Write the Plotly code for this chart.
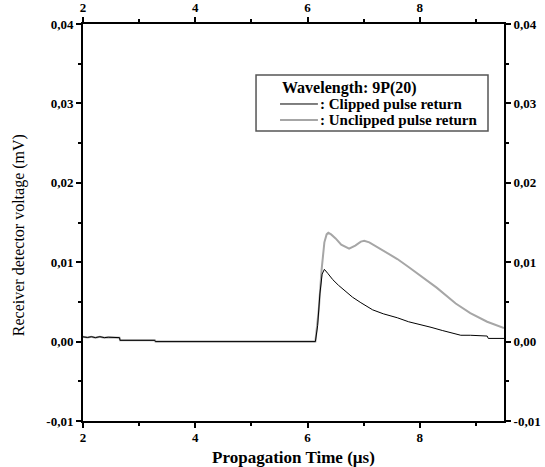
import plotly.graph_objects as go

# Clipped pulse return (black)
clip_x = [2.0, 2.08, 2.15, 2.22, 2.3, 2.38, 2.45, 2.55, 2.65, 2.66, 3.28, 3.29,
          6.14, 6.18, 6.22, 6.26, 6.30, 6.36, 6.45, 6.55, 6.68, 6.8, 6.95, 7.16,
          7.35, 7.6, 7.8, 8.04, 8.2, 8.4, 8.55, 8.73, 8.9, 9.1, 9.2, 9.22, 9.5]
clip_y = [0.0006, 0.00052, 0.00062, 0.0005, 0.00062, 0.0005, 0.00055, 0.0005, 0.0005, 0.00016, 0.00016, 0.0,
          0.0, 0.002, 0.006, 0.0085, 0.0091, 0.0086, 0.0078, 0.0071, 0.0063, 0.0056, 0.0049, 0.0040,
          0.0035, 0.0030, 0.0025, 0.0021, 0.0018, 0.0014, 0.0011, 0.0008, 0.0008, 0.0007, 0.0007, 0.0004, 0.0004]

# Unclipped pulse return (grey)
unclip_x = [2.0, 2.08, 2.15, 2.22, 2.3, 2.38, 2.45, 2.55, 2.65, 2.66, 3.28, 3.29,
            6.14, 6.2, 6.25, 6.3, 6.34, 6.37, 6.42, 6.5, 6.6, 6.74, 6.85, 6.95, 7.01,
            7.1, 7.2, 7.4, 7.6, 7.8, 8.04, 8.3, 8.64, 8.9, 9.2, 9.5]
unclip_y = [0.0006, 0.00052, 0.00062, 0.0005, 0.00062, 0.0005, 0.00055, 0.0005, 0.0005, 0.00016, 0.00016, 0.0,
            0.0, 0.004, 0.009, 0.0125, 0.0135, 0.0137, 0.0135, 0.013, 0.0122, 0.0117, 0.0121, 0.0126, 0.0127,
            0.0125, 0.0121, 0.0113, 0.0104, 0.0094, 0.0082, 0.0068, 0.0048, 0.0036, 0.0025, 0.0017]

x_ticks = [2, 4, 6, 8]
x_ticktext = ["2", "4", "6", "8"]
y_ticks = [-0.01, 0.0, 0.01, 0.02, 0.03, 0.04]
y_ticktext = ["-0,01", "0,00", "0,01", "0,02", "0,03", "0,04"]

legend_title = "Wavelength: 9P(20)"
name_clip = ": Clipped pulse return"
name_unclip = ": Unclipped pulse return"
x_title = "Propagation Time (µs)"
y_title = "Receiver detector voltage (mV)"

clip_color = "#000000"
unclip_color = "#a6a6a6"

SERIF = "Liberation Serif, Times New Roman, serif"
tickfont = dict(family=SERIF, size=13, color="black", weight="bold")
legfont = dict(family=SERIF, size=15, color="black", weight="bold")
legtitlefont = dict(family=SERIF, size=16, color="black", weight="bold")

fig = go.Figure()
fig.add_trace(go.Scatter(x=unclip_x, y=unclip_y, mode="lines", name=name_unclip,
                         line=dict(color=unclip_color, width=2)))
fig.add_trace(go.Scatter(x=clip_x, y=clip_y, mode="lines", name=name_clip,
                         line=dict(color=clip_color, width=1)))
# invisible trace to anchor top/right axes
fig.add_trace(go.Scatter(x=[2], y=[0], xaxis="x2", yaxis="y2", mode="markers",
                         marker=dict(opacity=0), showlegend=False, hoverinfo="skip"))

axis_common = dict(showline=True, linecolor="black", linewidth=2, showgrid=False,
                   zeroline=False, ticks="outside", ticklen=5, tickwidth=2,
                   tickcolor="black", tickfont=tickfont, automargin=False)
xminor = dict(ticks="outside", dtick=1, tick0=2, ticklen=3, tickwidth=2, tickcolor="black")
yminor = dict(ticks="outside", dtick=0.005, tick0=0, ticklen=3, tickwidth=2, tickcolor="black")

fig.update_layout(
    width=545, height=467,
    margin=dict(l=83, r=41, t=24, b=46, autoexpand=False),
    plot_bgcolor="white", paper_bgcolor="white",
    showlegend=False,
    xaxis=dict(range=[2, 9.5], tickvals=x_ticks, ticktext=x_ticktext, minor=xminor,
               ticklabelstandoff=-2,
               title=dict(text=x_title,
                          font=dict(family=SERIF, size=17, color="black", weight="bold"), standoff=10),
               **axis_common),
    xaxis2=dict(range=[2, 9.5], overlaying="x", side="top", matches="x", anchor="y",
                tickvals=x_ticks, ticktext=x_ticktext, minor=xminor, **axis_common),
    yaxis=dict(range=[-0.01, 0.04], tickvals=y_ticks, ticktext=y_ticktext, minor=yminor,
               **axis_common),
    yaxis2=dict(range=[-0.01, 0.04], overlaying="y", side="right", matches="y", anchor="x",
                tickvals=y_ticks, ticktext=y_ticktext, minor=yminor, **axis_common),
)

# y-axis title (placed slightly below the plot centre, as in the original)
fig.add_annotation(xref="paper", yref="paper", x=0, y=0.468, xanchor="center", yanchor="middle",
                   xshift=-64, textangle=-90, text=y_title, showarrow=False,
                   font=dict(family=SERIF, size=16, color="black"))

# Manual legend box
fig.add_shape(type="rect", xref="paper", yref="paper", x0=0.411, x1=0.962, y0=0.7305, y1=0.8715,
              line=dict(color="#555555", width=1.5), fillcolor="white", layer="above")
fig.add_annotation(xref="paper", yref="paper", x=0.468, y=0.839, xanchor="left", yanchor="middle",
                   text=legend_title, showarrow=False, font=legtitlefont)
fig.add_shape(type="line", xref="paper", yref="paper", x0=0.468, x1=0.558, y0=0.7985, y1=0.7985,
              line=dict(color=clip_color, width=1))
fig.add_annotation(xref="paper", yref="paper", x=0.558, y=0.7985, xanchor="left", yanchor="middle",
                   text=name_clip, showarrow=False, font=legfont)
fig.add_shape(type="line", xref="paper", yref="paper", x0=0.468, x1=0.558, y0=0.758, y1=0.758,
              line=dict(color=unclip_color, width=2))
fig.add_annotation(xref="paper", yref="paper", x=0.558, y=0.758, xanchor="left", yanchor="middle",
                   text=name_unclip, showarrow=False, font=legfont)

# remove the default 8px page margin so the figure fills the window exactly; hide the modebar
fig.write_html("out.html", config={"displayModeBar": False},
               post_script="document.body.style.margin='0px';")
